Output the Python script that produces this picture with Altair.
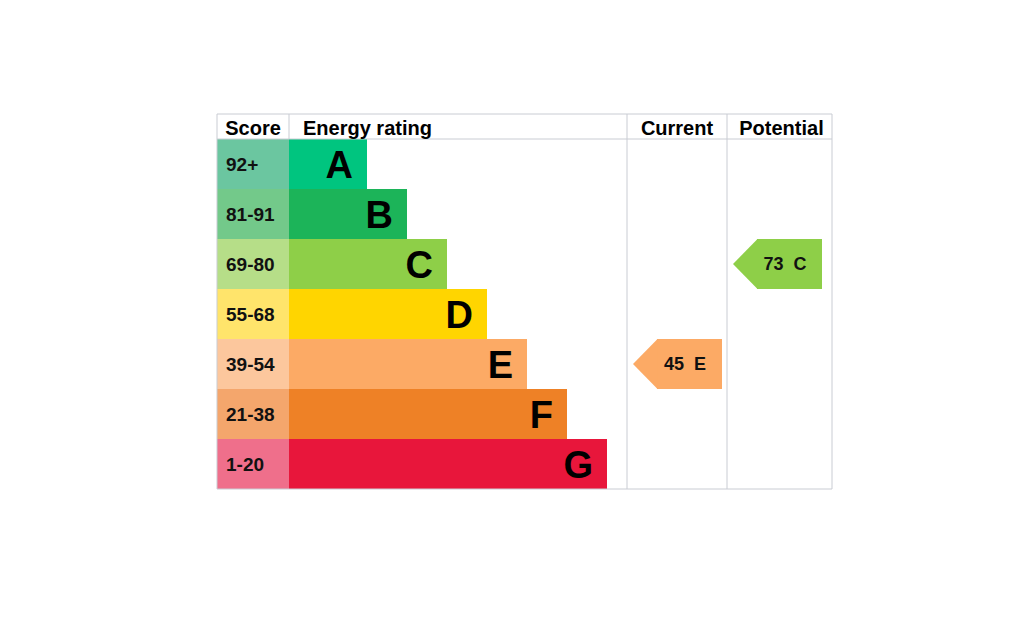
import altair as alt
import pandas as pd

# ---- data ----
ratings = ["A", "B", "C", "D", "E", "F", "G"]
score_ranges = ["92+", "81-91", "69-80", "55-68", "39-54", "21-38", "1-20"]
range_min = [92, 81, 69, 55, 39, 21, 1]
bar_colors = ["#00c57f", "#1cb459", "#8ecf48", "#ffd500", "#fcaa65", "#ee8126", "#e8163b"]
score_colors = ["#6bc6a0", "#73c98a", "#b6de88", "#ffe46b", "#fcc79d", "#f4a66c", "#ef6f8b"]
headers = ["Score", "Energy rating", "Current", "Potential"]
current_score = 45
potential_score = 73

# ---- layout constants ----
W, H = 1024, 640
LEFT, TOP = 217, 114
HEADER_H, ROW_H = 25, 50
COL_W = [72, 338, 100, 105]
BAR_MIN, BAR_STEP = 78, 40
ARROW_W, ARROW_TIP, ARROW_INSET = 89, 24, 6
LINE = "#c9ccd3"
FONT = "Liberation Sans"

col_x = [LEFT]
for w in COL_W:
    col_x.append(col_x[-1] + w)
bottom = TOP + HEADER_H + ROW_H * len(ratings)


def band_of(score):
    for i, m in enumerate(range_min):
        if score >= m:
            return i
    return len(ratings) - 1


rows = []
for i, r in enumerate(ratings):
    y0 = TOP + HEADER_H + i * ROW_H
    rows.append(dict(rating=r, rng=score_ranges[i], bc=bar_colors[i], sc=score_colors[i],
                     y0=y0, y1=y0 + ROW_H, yc=y0 + ROW_H / 2,
                     sx0=col_x[0], sx1=col_x[1], bx0=col_x[1],
                     bx1=col_x[1] + BAR_MIN + i * BAR_STEP))
rows = pd.DataFrame(rows)
rows["ly"] = rows["yc"] + 0.36 * 38
rows["lx"] = rows["bx1"] - 14
rows["sy"] = rows["yc"] + 0.36 * 19
rows["stx"] = rows["sx0"] + 9

xs = alt.Scale(domain=[0, W], range=[0, W], nice=False, zero=False)
ys = alt.Scale(domain=[0, H], range=[0, H], nice=False, zero=False)


def X(f):
    return alt.X(f, type="quantitative", scale=xs, axis=None)


def Y(f):
    return alt.Y(f, type="quantitative", scale=ys, axis=None)


base = alt.Chart(rows)
score_cells = base.mark_rect().encode(x=X("sx0"), x2="sx1", y=Y("y0"), y2="y1",
                                       color=alt.Color("sc:N", scale=None))
bars = base.mark_rect().encode(x=X("bx0"), x2="bx1", y=Y("y0"), y2="y1",
                                color=alt.Color("bc:N", scale=None))
letters = base.mark_text(font=FONT, fontWeight="bold", fontSize=38, align="right",
                         baseline="alphabetic", color="#000000").encode(
    x=X("lx"), y=Y("ly"), text="rating:N")
score_text = base.mark_text(font=FONT, fontWeight="bold", fontSize=19, align="left",
                            baseline="alphabetic", color="#111111").encode(
    x=X("stx"), y=Y("sy"), text="rng:N")

# header texts
hy = TOP + HEADER_H / 2 + 0.36 * 20 + 1
hdr = pd.DataFrame(dict(
    t=headers,
    x=[(col_x[0] + col_x[1]) / 2, col_x[1] + 14, (col_x[2] + col_x[3]) / 2, (col_x[3] + col_x[4]) / 2 + 2],
    a=["center", "left", "center", "center"],
    y=[hy] * 4))
hdr_c = alt.Chart(hdr[hdr.a == "center"]).mark_text(
    font=FONT, fontWeight="bold", fontSize=20, align="center", baseline="alphabetic",
    color="#000000").encode(x=X("x"), y=Y("y"), text="t:N")
hdr_l = alt.Chart(hdr[hdr.a == "left"]).mark_text(
    font=FONT, fontWeight="bold", fontSize=20, align="left", baseline="alphabetic",
    color="#000000").encode(x=X("x"), y=Y("y"), text="t:N")

# grid lines
lines = pd.DataFrame([
    dict(x=col_x[0], x2=col_x[4], y=TOP, y2=TOP),
    dict(x=col_x[0], x2=col_x[4], y=TOP + HEADER_H, y2=TOP + HEADER_H),
    dict(x=col_x[0], x2=col_x[4], y=bottom, y2=bottom),
    dict(x=col_x[0], x2=col_x[0], y=TOP, y2=bottom),
    dict(x=col_x[1], x2=col_x[1], y=TOP, y2=TOP + HEADER_H),
    dict(x=col_x[2], x2=col_x[2], y=TOP, y2=bottom),
    dict(x=col_x[3], x2=col_x[3], y=TOP, y2=bottom),
    dict(x=col_x[4], x2=col_x[4], y=TOP, y2=bottom),
])
grid = alt.Chart(lines).mark_rule(color=LINE, strokeWidth=1).encode(
    x=X("x"), x2="x2", y=Y("y"), y2="y2")

# arrows: rectangular body + triangular tip
arrow_layers = []
for score, c in [(current_score, 2), (potential_score, 3)]:
    b = band_of(score)
    y0 = TOP + HEADER_H + b * ROW_H
    tip = col_x[c] + ARROW_INSET
    right = tip + ARROW_W
    body = tip + ARROW_TIP
    col = bar_colors[b]
    body_df = pd.DataFrame([dict(x=body, x2=right, y=y0, y2=y0 + ROW_H)])
    tip_df = pd.DataFrame([dict(x=tip, y=y0 + ROW_H / 2, y2=y0 + ROW_H / 2),
                           dict(x=body + 0.5, y=y0, y2=y0 + ROW_H)])
    lab_df = pd.DataFrame([dict(t=f"{score}\u00a0\u00a0{ratings[b]}",
                                x=(body + right) / 2 - 4.5, y=y0 + ROW_H / 2 + 0.36 * 18)])
    arrow_layers.append(alt.Chart(body_df).mark_rect(color=col).encode(
        x=X("x"), x2="x2", y=Y("y"), y2="y2"))
    arrow_layers.append(alt.Chart(tip_df).mark_area(color=col, interpolate="linear").encode(
        x=X("x"), y=Y("y"), y2="y2"))
    arrow_layers.append(alt.Chart(lab_df).mark_text(
        font=FONT, fontWeight="bold", fontSize=18, align="center", baseline="alphabetic",
        color="#111111").encode(x=X("x"), y=Y("y"), text="t:N"))

chart = alt.layer(score_cells, bars, grid, letters, score_text, hdr_c, hdr_l, *arrow_layers).properties(
    width=W, height=H, padding=0, autosize=alt.AutoSizeParams(type="none"),
    background="#ffffff"
).configure_view(stroke=None)

chart.save("out.html", embed_options={"renderer": "svg", "actions": False})
